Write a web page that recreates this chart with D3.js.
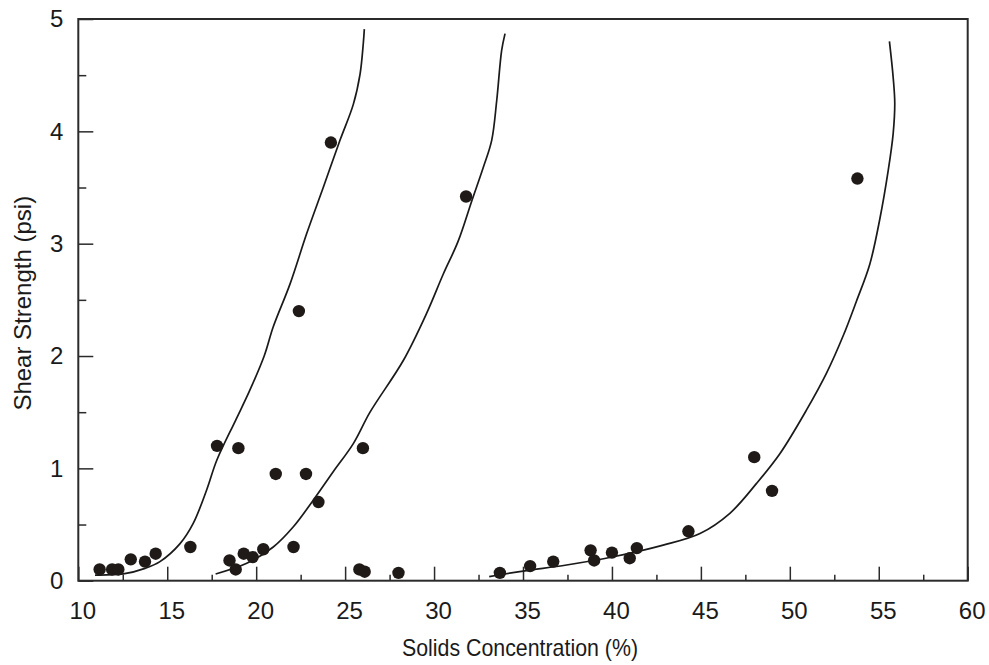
<!DOCTYPE html>
<html>
<head>
<meta charset="utf-8">
<script src="https://cdn.jsdelivr.net/npm/d3@7"></script>
<style>
  body { margin: 0; background: #fff; }
  text { font-family: "Liberation Sans", Arial, sans-serif; fill: #1a1a1a; }
  .curve { fill: none; stroke: #1a1a1a; stroke-width: 1.7; }
</style>
</head>
<body>
<div id="chart"></div>
<script>
// measured points
const pointX = [11.2, 11.9, 12.25, 12.95, 13.75, 14.35, 16.3, 17.8, 19.0, 18.5, 18.85, 19.3, 19.8, 20.4,
  21.1, 22.8, 23.5, 22.1, 22.4, 24.2, 26.0, 25.8, 26.1, 28.0, 31.8,
  33.7, 35.4, 36.7, 38.8, 39.0, 40.0, 41.0, 41.4, 44.3, 48.0, 49.0, 53.8];
const pointY = [0.10, 0.10, 0.10, 0.19, 0.17, 0.24, 0.30, 1.20, 1.18, 0.18, 0.10, 0.24, 0.21, 0.28,
  0.95, 0.95, 0.70, 0.30, 2.40, 3.90, 1.18, 0.10, 0.08, 0.07, 3.42,
  0.07, 0.13, 0.17, 0.27, 0.18, 0.25, 0.20, 0.29, 0.44, 1.10, 0.80, 3.58];

// fitted curves
const curve1X = [10.94, 12.53, 13.75, 14.59, 15.72, 16.46, 17.22, 17.78, 18.85, 19.6, 20.45, 20.96, 21.9, 22.84, 23.77, 24.71, 25.46, 25.84, 26.02, 26.08];
const curve1Y = [0.05, 0.06, 0.11, 0.17, 0.33, 0.51, 0.81, 1.07, 1.43, 1.68, 2.0, 2.26, 2.64, 3.09, 3.50, 3.92, 4.24, 4.51, 4.78, 4.91];
const curve2X = [17.72, 19.47, 20.96, 22.09, 23.21, 24.33, 25.46, 26.4, 28.27, 29.58, 30.52, 31.35, 32.12, 32.77, 33.24, 33.52, 33.80, 33.99];
const curve2Y = [0.06, 0.155, 0.30, 0.48, 0.717, 0.97, 1.22, 1.5, 1.96, 2.38, 2.73, 3.02, 3.38, 3.68, 3.92, 4.27, 4.72, 4.87];
const curve3X = [33.10, 35.01, 37.45, 40.07, 42.88, 44.95, 46.63, 48.13, 49.44, 50.94, 52.07, 53.0, 53.75, 54.5, 55.06, 55.53, 55.81, 55.9, 55.81, 55.6];
const curve3Y = [0.036, 0.086, 0.14, 0.213, 0.317, 0.42, 0.6, 0.866, 1.13, 1.52, 1.85, 2.18, 2.49, 2.82, 3.22, 3.65, 3.98, 4.25, 4.48, 4.80];

const xTicks = [10, 15, 20, 25, 30, 35, 40, 45, 50, 55, 60];
const xMinorTicks = [12.5, 17.5, 22.5, 27.5, 32.5, 37.5, 42.5, 47.5, 52.5, 57.5];
const yTicks = [0, 1, 2, 3, 4, 5];
const yMinorTicks = [0.5, 1.5, 2.5, 3.5, 4.5];

const margin = { top: 19, right: 21.3, bottom: 84.3, left: 78.3 };
const width = 989 - margin.left - margin.right;
const height = 665 - margin.top - margin.bottom;

const svg = d3.select("#chart")
  .append("svg")
  .attr("width", width + margin.left + margin.right)
  .attr("height", height + margin.top + margin.bottom)
  .append("g")
  .attr("transform", `translate(${margin.left},${margin.top})`);

const x = d3.scaleLinear().domain([10, 60]).range([0, width]);
const y = d3.scaleLinear().domain([0, 5]).range([height, 0]);

// Axes (ticks point inward)
const xAxis = svg.append("g")
  .attr("transform", `translate(0,${height})`)
  .call(d3.axisBottom(x).tickValues(xTicks).tickSize(-14).tickPadding(21).tickFormat(d3.format("d")));
svg.append("g")
  .attr("transform", `translate(0,${height})`)
  .call(d3.axisBottom(x).tickValues(xMinorTicks).tickSize(-6).tickFormat(""));
svg.append("g")
  .call(d3.axisLeft(y).tickValues(yTicks).tickSize(-15).tickPadding(15).tickFormat(d3.format("d")));
svg.append("g")
  .call(d3.axisLeft(y).tickValues(yMinorTicks).tickSize(-8).tickFormat(""));

svg.selectAll(".domain").remove();
svg.selectAll(".tick line").attr("stroke", "#2b2b2b").attr("stroke-width", 1.5);
svg.selectAll(".tick text").attr("font-size", "24px").attr("fill", "#1a1a1a");
xAxis.selectAll(".tick text").attr("dx", 4);

// Frame
svg.append("rect")
  .attr("width", width)
  .attr("height", height)
  .attr("fill", "none")
  .attr("stroke", "#2b2b2b")
  .attr("stroke-width", 2);

// Curves
const line = d3.line()
  .x(d => x(d[0]))
  .y(d => y(d[1]))
  .curve(d3.curveCatmullRom.alpha(0.5));

[[curve1X, curve1Y], [curve2X, curve2Y], [curve3X, curve3Y]].forEach(([cx, cy]) => {
  svg.append("path")
    .datum(cx.map((v, i) => [v, cy[i]]))
    .attr("class", "curve")
    .attr("d", line);
});

// Points
svg.selectAll("circle.pt")
  .data(pointX.map((v, i) => [v, pointY[i]]))
  .join("circle")
  .attr("class", "pt")
  .attr("cx", d => x(d[0]))
  .attr("cy", d => y(d[1]))
  .attr("r", 6.2)
  .attr("fill", "#1f1a17");

// Axis titles
svg.append("text")
  .attr("x", width / 2 - 3)
  .attr("y", height + 75)
  .attr("text-anchor", "middle")
  .attr("font-size", "24px")
  .attr("textLength", 236)
  .attr("lengthAdjust", "spacingAndGlyphs")
  .text("Solids Concentration (%)");

svg.append("text")
  .attr("transform", `translate(${-margin.left + 31},${y(2.47)}) rotate(-90)`)
  .attr("text-anchor", "middle")
  .attr("font-size", "24px")
  .text("Shear Strength (psi)");
</script>
</body>
</html>
